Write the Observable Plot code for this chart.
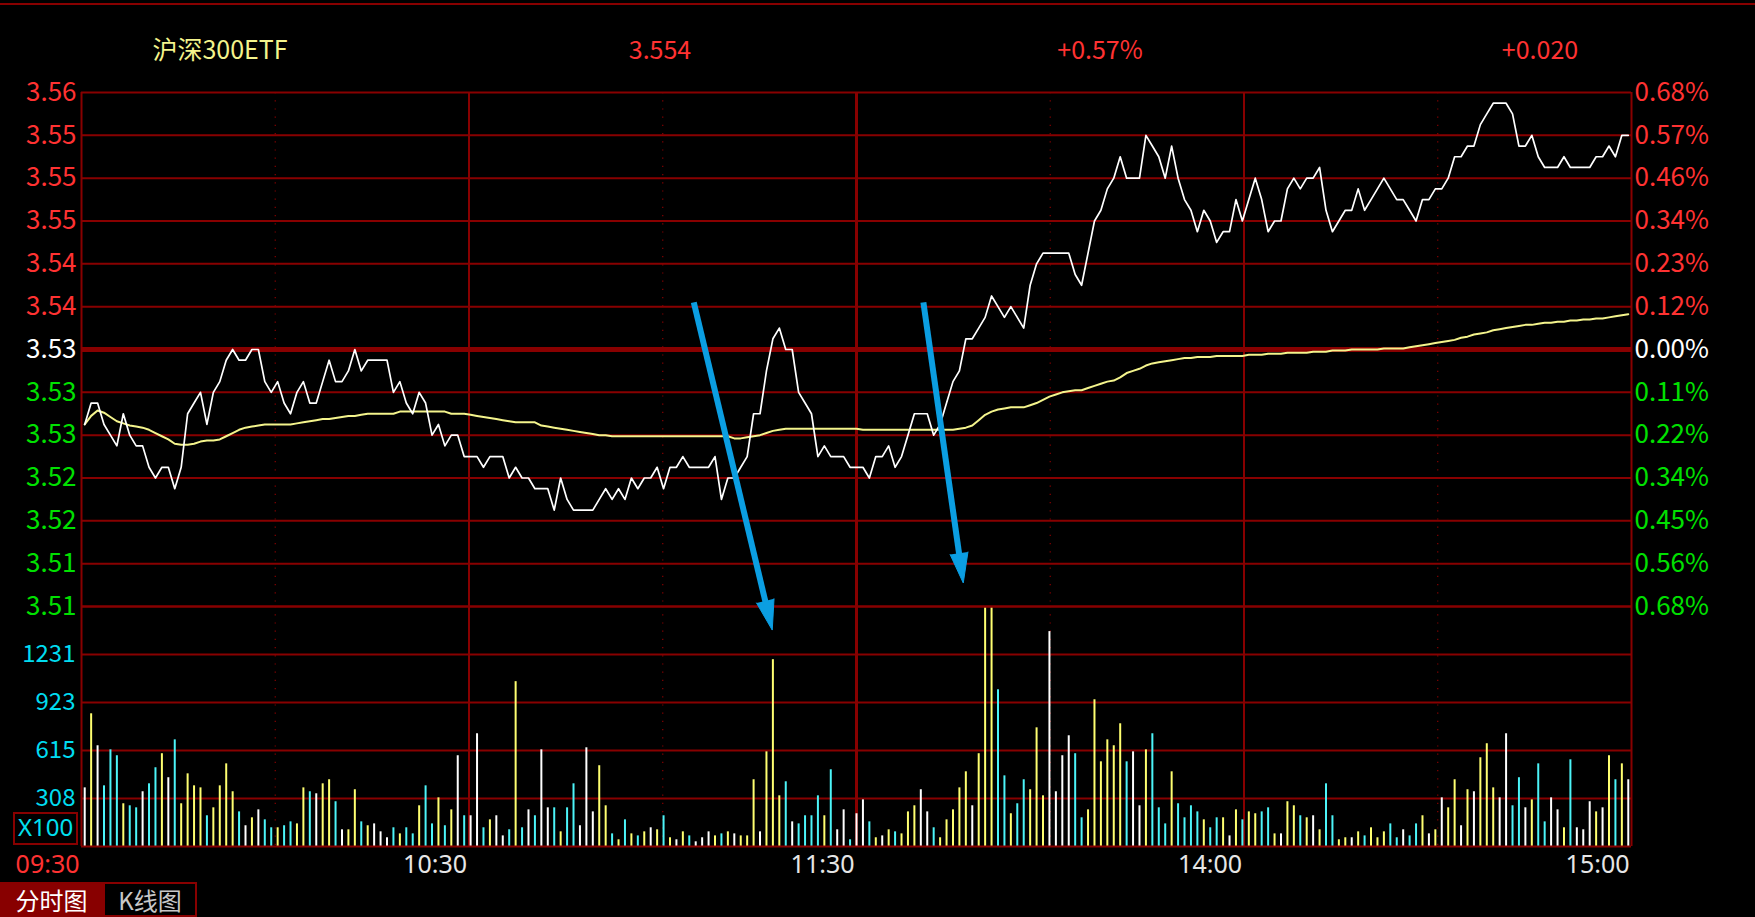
<!DOCTYPE html>
<html>
<head>
<meta charset="utf-8">
<script src="https://cdn.jsdelivr.net/npm/d3@7"></script>
<script src="https://cdn.jsdelivr.net/npm/@observablehq/plot@0.6"></script>
<style>
html, body { margin: 0; padding: 0; background: #000; }
#root { position: relative; width: 1755px; height: 917px; background: #000; overflow: hidden;
  font-family: "Noto Sans CJK SC", "Noto Sans", sans-serif; }
#root svg { position: absolute; left: 0; }
.hdr { position: absolute; top: 48px; transform: translate(-50%, -50%); font-size: 25px; white-space: nowrap; }
#topline { position: absolute; left: 0; top: 3px; width: 1755px; height: 2px; background: #880000; }
#x100 { position: absolute; left: 13px; top: 812px; width: 61px; height: 29px; border: 2px solid #880000;
  color: #00e0f0; font-family: "Noto Sans", sans-serif; font-size: 24px; line-height: 26px; text-align: center; }
#tab1 { position: absolute; left: 0; top: 882px; width: 103px; height: 35px; background: #880000; color: #fff;
  font-size: 24px; line-height: 35px; text-align: center; }
#tab2 { position: absolute; left: 103px; top: 882px; width: 90px; height: 31px; border: 2px solid #880000; color: #c8c8c8;
  font-size: 24px; line-height: 31px; text-align: center; }
</style>
</head>
<body>
<div id="root">
  <div id="topline"></div>
</div>
<script>
// ---------------- data ----------------
const title = "沪深300ETF";
const lastPrice = "3.554";
const changePct = "+0.57%";
const changeAbs = "+0.020";
const prevClose = 3.534;

// minute prices, 09:30 + 240 minutes (241 points)
const prices = [
  3.527, 3.529, 3.529, 3.527, 3.526, 3.525, 3.528, 3.526, 3.525, 3.525,
  3.523, 3.522, 3.523, 3.523, 3.521, 3.523, 3.528, 3.529, 3.530, 3.527,
  3.530, 3.531, 3.533, 3.534, 3.533, 3.533, 3.534, 3.534, 3.531, 3.530,
  3.531, 3.529, 3.528, 3.530, 3.531, 3.529, 3.529, 3.531, 3.533, 3.531,
  3.531, 3.532, 3.534, 3.532, 3.533, 3.533, 3.533, 3.533, 3.530, 3.531,
  3.529, 3.528, 3.530, 3.529, 3.526, 3.527, 3.525, 3.526, 3.526, 3.524,
  3.524, 3.524, 3.523, 3.524, 3.524, 3.524, 3.522, 3.523, 3.522, 3.522,
  3.521, 3.521, 3.521, 3.519, 3.522, 3.520, 3.519, 3.519, 3.519, 3.519,
  3.520, 3.521, 3.520, 3.521, 3.520, 3.522, 3.521, 3.522, 3.522, 3.523,
  3.521, 3.523, 3.523, 3.524, 3.523, 3.523, 3.523, 3.523, 3.524, 3.520,
  3.522, 3.522, 3.523, 3.524, 3.528, 3.528, 3.532, 3.535, 3.536, 3.534,
  3.534, 3.530, 3.529, 3.528, 3.524, 3.525, 3.524, 3.524, 3.524, 3.523,
  3.523, 3.523, 3.522, 3.524, 3.524, 3.525, 3.523, 3.524, 3.526, 3.528,
  3.528, 3.528, 3.526, 3.527, 3.529, 3.531, 3.532, 3.535, 3.535, 3.536,
  3.537, 3.539, 3.538, 3.537, 3.538, 3.537, 3.536, 3.540, 3.542, 3.543,
  3.543, 3.543, 3.543, 3.543, 3.541, 3.540, 3.543, 3.546, 3.547, 3.549,
  3.550, 3.552, 3.550, 3.550, 3.550, 3.554, 3.553, 3.552, 3.550, 3.553,
  3.550, 3.548, 3.547, 3.545, 3.547, 3.546, 3.544, 3.545, 3.545, 3.548,
  3.546, 3.548, 3.550, 3.548, 3.545, 3.546, 3.546, 3.549, 3.550, 3.549,
  3.550, 3.550, 3.551, 3.547, 3.545, 3.546, 3.547, 3.547, 3.549, 3.547,
  3.548, 3.549, 3.550, 3.549, 3.548, 3.548, 3.547, 3.546, 3.548, 3.548,
  3.549, 3.549, 3.550, 3.552, 3.552, 3.553, 3.553, 3.555, 3.556, 3.557,
  3.557, 3.557, 3.556, 3.553, 3.553, 3.554, 3.552, 3.551, 3.551, 3.551,
  3.552, 3.551, 3.551, 3.551, 3.551, 3.552, 3.552, 3.553, 3.552, 3.554,
  3.554
];

// average price line
const avgPrices = [
  3.5270, 3.5278, 3.5283, 3.5281, 3.5277, 3.5273, 3.5271, 3.5269, 3.5268, 3.5267,
  3.5265, 3.5262, 3.5259, 3.5256, 3.5252, 3.5251, 3.5251, 3.5252, 3.5254, 3.5255,
  3.5255, 3.5256, 3.5259, 3.5262, 3.5265, 3.5267, 3.5268, 3.5269, 3.5270, 3.5270,
  3.5270, 3.5270, 3.5270, 3.5271, 3.5272, 3.5273, 3.5274, 3.5275, 3.5275, 3.5276,
  3.5277, 3.5278, 3.5278, 3.5279, 3.5280, 3.5280, 3.5280, 3.5280, 3.5280, 3.5282,
  3.5282, 3.5282, 3.5282, 3.5282, 3.5282, 3.5282, 3.5282, 3.5280, 3.5280, 3.5280,
  3.5279, 3.5278, 3.5277, 3.5276, 3.5275, 3.5274, 3.5273, 3.5272, 3.5272, 3.5272,
  3.5272, 3.5269, 3.5268, 3.5267, 3.5266, 3.5265, 3.5264, 3.5263, 3.5262, 3.5261,
  3.5260, 3.5260, 3.5259, 3.5259, 3.5259, 3.5259, 3.5259, 3.5259, 3.5259, 3.5259,
  3.5259, 3.5259, 3.5259, 3.5259, 3.5259, 3.5259, 3.5259, 3.5259, 3.5259, 3.5259,
  3.5259, 3.5257, 3.5257, 3.5258, 3.5259, 3.5260, 3.5262, 3.5264, 3.5265, 3.5266,
  3.5266, 3.5266, 3.5266, 3.5266, 3.5266, 3.5266, 3.5266, 3.5266, 3.5266, 3.5266,
  3.5266, 3.5265, 3.5265, 3.5265, 3.5265, 3.5265, 3.5265, 3.5265, 3.5265, 3.5265,
  3.5265, 3.5265, 3.5265, 3.5265, 3.5265, 3.5265, 3.5266, 3.5267, 3.5269, 3.5274,
  3.5279, 3.5282, 3.5284, 3.5285, 3.5286, 3.5286, 3.5286, 3.5288, 3.5290, 3.5293,
  3.5296, 3.5298, 3.5300, 3.5301, 3.5302, 3.5302, 3.5304, 3.5306, 3.5308, 3.5310,
  3.5311, 3.5314, 3.5318, 3.5320, 3.5322, 3.5325, 3.5327, 3.5328, 3.5329, 3.5330,
  3.5331, 3.5332, 3.5332, 3.5333, 3.5333, 3.5333, 3.5334, 3.5334, 3.5334, 3.5334,
  3.5334, 3.5335, 3.5335, 3.5335, 3.5336, 3.5336, 3.5336, 3.5337, 3.5337, 3.5337,
  3.5337, 3.5338, 3.5338, 3.5338, 3.5339, 3.5339, 3.5339, 3.5340, 3.5340, 3.5340,
  3.5340, 3.5340, 3.5341, 3.5341, 3.5341, 3.5341, 3.5342, 3.5343, 3.5344, 3.5345,
  3.5346, 3.5347, 3.5348, 3.5349, 3.5351, 3.5352, 3.5354, 3.5355, 3.5356, 3.5358,
  3.5359, 3.5360, 3.5361, 3.5362, 3.5363, 3.5363, 3.5364, 3.5365, 3.5365, 3.5366,
  3.5366, 3.5367, 3.5367, 3.5368, 3.5368, 3.5369, 3.5369, 3.5370, 3.5371, 3.5372,
  3.5373
];

// minute volumes (x100)
const volumes = [
  376, 851, 646, 389, 620, 582, 274, 261, 248, 351,
  402, 505, 595, 441, 684, 274, 466, 389, 376, 197,
  248, 389, 530, 351, 222, 133, 184, 235, 171, 120,
  120, 133, 158, 145, 376, 351, 338, 402, 428, 287,
  107, 107, 364, 158, 133, 145, 94, 56, 120, 81,
  120, 81, 261, 389, 145, 312, 133, 235, 582, 197,
  197, 723, 120, 171, 197, 68, 107, 1057, 120, 235,
  197, 620, 248, 248, 94, 248, 402, 133, 633, 222,
  518, 261, 81, 43, 171, 81, 68, 94, 120, 107,
  197, 56, 43, 94, 68, 30, 56, 94, 68, 81,
  94, 81, 68, 68, 428, 94, 607, 1198, 325, 415,
  158, 145, 197, 197, 325, 197, 492, 107, 235, 43,
  210, 299, 158, 56, 68, 107, 94, 81, 222, 261,
  364, 222, 120, 56, 171, 235, 376, 479, 261, 595,
  1539, 1535, 1005, 453, 210, 274, 428, 364, 761, 325,
  1378, 351, 582, 710, 595, 184, 235, 941, 543, 684,
  646, 787, 543, 607, 261, 620, 723, 248, 145, 479,
  274, 184, 261, 222, 171, 120, 184, 184, 68, 235,
  171, 222, 210, 222, 248, 81, 81, 287, 261, 197,
  184, 197, 107, 402, 197, 43, 56, 56, 94, 68,
  120, 56, 94, 145, 56, 107, 68, 145, 197, 81,
  107, 312, 248, 428, 133, 364, 351, 569, 659, 376,
  312, 723, 261, 441, 248, 299, 530, 158, 312, 235,
  120, 556, 120, 107, 287, 222, 248, 582, 428, 530,
  428
];

// axis ticks and labels
const priceTicks = [3.558, 3.554, 3.550, 3.546, 3.542, 3.538, 3.534, 3.530, 3.526, 3.522, 3.518, 3.514, 3.510];
const priceLabels = ["3.56", "3.55", "3.55", "3.55", "3.54", "3.54", "3.53", "3.53", "3.53", "3.52", "3.52", "3.51", "3.51"];
const pctLabels = ["0.68%", "0.57%", "0.46%", "0.34%", "0.23%", "0.12%", "0.00%", "0.11%", "0.22%", "0.34%", "0.45%", "0.56%", "0.68%"];
const volMax = 1539;
const volTicks = [308, 615, 923, 1231];
const volTickLabels = ["308", "615", "923", "1231"];
const volUnit = "X100";
const timeLabels = ["09:30", "10:30", "11:30", "14:00", "15:00"];
const tabs = ["分时图", "K线图"];

// annotation arrows, in chart units (minute slot, price): start and tip
const arrowStart = [[95.2, 3.5384], [130.9, 3.5384]];
const arrowEnd = [[107.4, 3.5078], [137.1, 3.5122]];

// ---------------- drawing ----------------
const W = 1755, ML = 81, MR = 124;
const PH = 650, PMT = 92, PMB = 44;
const nSlots = prices.length;            // 241 minute slots
const GRID = "#880000";
const RED = "#ff3232", GREEN = "#00e000", WHITE = "#ffffff";
const CYAN_TXT = "#00dcf0";
const ARROW = "#0b9ee2";
const FONT = '"Noto Sans CJK SC", "Noto Sans", sans-serif';

const rows = prices.map((p, i) => ({
  slot: i + 0.5,
  p,
  a: avgPrices[i],
  v: volumes[i],
  dir: i === 0 ? 0 : Math.sign(Math.round((p - prices[i - 1]) * 1000))
}));

const quarters = [0, 1, 2, 3, 4].map(k => nSlots * k / 4);
const eighths = [1, 3, 5, 7].map(k => nSlots * k / 8);

const tickRows = priceTicks.map((t, i) => ({
  t, left: priceLabels[i], right: pctLabels[i],
  c: t > prevClose + 1e-9 ? RED : t < prevClose - 1e-9 ? GREEN : WHITE
}));

// scales identical to the price plot's, used to shape the arrow heads in screen space
const pDomain = [priceTicks[priceTicks.length - 1], priceTicks[0]];
const xs = d3.scaleLinear([0, nSlots], [ML, W - MR]);
const ys = d3.scaleLinear(pDomain, [PH - PMB, PMT]);
const HEAD_LEN = 30, HEAD_HALF = 9;
const shafts = [], heads = [];
arrowStart.forEach((s, k) => {
  const e = arrowEnd[k];
  const px1 = xs(s[0]), py1 = ys(s[1]), px2 = xs(e[0]), py2 = ys(e[1]);
  const L = Math.hypot(px2 - px1, py2 - py1);
  const ux = (px2 - px1) / L, uy = (py2 - py1) / L;
  const bx = px2 - ux * HEAD_LEN, by = py2 - uy * HEAD_LEN;
  shafts.push({x1: s[0], y1: s[1], x2: xs.invert(bx + ux * 2), y2: ys.invert(by + uy * 2)});
  const pts = [[bx - uy * HEAD_HALF, by + ux * HEAD_HALF], [px2, py2], [bx + uy * HEAD_HALF, by - ux * HEAD_HALF]];
  for (const [hx, hy] of pts) heads.push({id: k, x: xs.invert(hx), y: ys.invert(hy)});
});

const pricePlot = Plot.plot({
  width: W, height: PH,
  marginTop: PMT, marginBottom: PMB, marginLeft: ML, marginRight: MR,
  x: {domain: [0, nSlots], axis: null},
  y: {domain: pDomain, axis: null},
  color: {type: "identity"},
  style: {background: "transparent", fontFamily: FONT, overflow: "visible"},
  marks: [
    Plot.ruleY(priceTicks.filter(t => Math.abs(t - prevClose) > 1e-9), {stroke: GRID, strokeWidth: 2}),
    Plot.ruleX(eighths, {stroke: GRID, strokeWidth: 1.2, strokeDasharray: "1.2,7"}),
    Plot.ruleX(quarters.filter((q, i) => i !== 2), {stroke: GRID, strokeWidth: 2}),
    Plot.ruleX([quarters[2]], {stroke: GRID, strokeWidth: 3}),
    Plot.ruleY([prevClose], {stroke: GRID, strokeWidth: 5}),
    Plot.line(rows, {x: "slot", y: "a", stroke: "#f4f48c", strokeWidth: 2}),
    Plot.line(rows, {x: "slot", y: "p", stroke: "#ffffff", strokeWidth: 1.7}),
    Plot.text(tickRows, {y: "t", text: "left", fill: "c", frameAnchor: "left", textAnchor: "end", dx: -5, fontSize: 26}),
    Plot.text(tickRows, {y: "t", text: "right", fill: "c", frameAnchor: "right", textAnchor: "start", dx: 3, fontSize: 26}),
    Plot.link(shafts, {x1: "x1", y1: "y1", x2: "x2", y2: "y2", stroke: ARROW, strokeWidth: 6, strokeLinecap: "butt"}),
    Plot.line(heads, {x: "x", y: "y", z: "id", fill: ARROW, stroke: ARROW, strokeWidth: 1, strokeLinejoin: "miter"})
  ]
});

const dirColor = d => d > 0 ? "#ffff70" : d < 0 ? "#4cf4f8" : "#ffffff";

const volPlot = Plot.plot({
  width: W, height: 300,
  marginTop: 16, marginBottom: 44, marginLeft: ML, marginRight: MR,
  x: {domain: [0, nSlots], axis: null},
  y: {domain: [0, volMax], axis: null},
  color: {type: "identity"},
  style: {background: "transparent", fontFamily: FONT, overflow: "visible"},
  marks: [
    Plot.ruleY(volTicks, {stroke: GRID, strokeWidth: 2}),
    Plot.ruleX(eighths, {stroke: GRID, strokeWidth: 1.2, strokeDasharray: "1.2,7"}),
    Plot.ruleX(quarters.filter((q, i) => i !== 2), {stroke: GRID, strokeWidth: 2, y1: 0, y2: volMax}),
    Plot.ruleX([quarters[2]], {stroke: GRID, strokeWidth: 3, y1: 0, y2: volMax}),
    Plot.ruleX(rows, {x: "slot", y1: 0, y2: "v", stroke: d => dirColor(d.dir), strokeWidth: 2}),
    Plot.ruleY([0, volMax], {stroke: GRID, strokeWidth: 2}),
    Plot.text(volTicks, {y: d => d, text: (d, i) => volTickLabels[i], fill: CYAN_TXT, frameAnchor: "left",
      textAnchor: "end", dx: -6, fontSize: 24}),
    Plot.text(timeLabels, {x: (d, i) => quarters[i], text: d => d, fill: (d, i) => i === 0 ? RED : "#e6e6e6",
      frameAnchor: "bottom", textAnchor: "end", dy: 26, dx: -2, fontSize: 25,
      fontFamily: '"Noto Sans", sans-serif'})
  ]
});

const root = document.getElementById("root");
volPlot.style.top = "590px";
pricePlot.style.top = "0px";
root.appendChild(volPlot);
root.appendChild(pricePlot);

// header texts
const hdr = [[title, "#f4f48c", 220], [lastPrice, RED, 660], [changePct, RED, 1100], [changeAbs, RED, 1540]];
for (const [t, c, x] of hdr) {
  const d = document.createElement("div");
  d.className = "hdr"; d.textContent = t; d.style.color = c; d.style.left = x + "px";
  root.appendChild(d);
}
const unit = document.createElement("div"); unit.id = "x100"; unit.textContent = volUnit; root.appendChild(unit);
const t1 = document.createElement("div"); t1.id = "tab1"; t1.textContent = tabs[0]; root.appendChild(t1);
const t2 = document.createElement("div"); t2.id = "tab2"; t2.textContent = tabs[1]; root.appendChild(t2);
</script>
</body>
</html>
